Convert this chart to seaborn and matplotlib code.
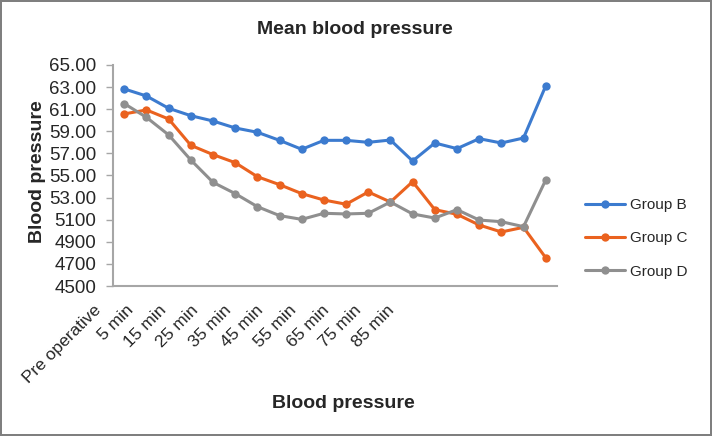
import numpy as np
import pandas as pd
import matplotlib.pyplot as plt
import seaborn as sns

# time points (every other one is labelled on the axis)
times = ["Pre operative", "0 min", "5 min", "10 min", "15 min", "20 min", "25 min",
         "30 min", "35 min", "40 min", "45 min", "50 min", "55 min", "60 min",
         "65 min", "70 min", "75 min", "80 min", "85 min", "90 min"]
shown_labels = ["Pre operative", "5 min", "15 min", "25 min", "35 min",
                "45 min", "55 min", "65 min", "75 min", "85 min"]

group_b = [62.83, 62.19, 61.08, 60.41, 59.93, 59.30, 58.91, 58.18, 57.37, 58.18,
           58.18, 58.00, 58.21, 56.31, 57.94, 57.43, 58.33, 57.94, 58.39, 63.10]
group_c = [60.57, 60.93, 60.11, 57.73, 56.89, 56.16, 54.89, 54.17, 53.36, 52.78,
           52.40, 53.51, 52.60, 54.44, 51.91, 51.49, 50.52, 49.89, 50.31, 47.56]
group_d = [61.50, 60.26, 58.67, 56.40, 54.38, 53.36, 52.18, 51.37, 51.03, 51.58,
           51.52, 51.58, 52.60, 51.52, 51.15, 51.91, 50.97, 50.82, 50.37, 54.59]

y_ticks = [45, 47, 49, 51, 53, 55, 57, 59, 61, 63, 65]
y_tick_labels = ["4500", "4700", "4900", "5100", "53.00", "55.00",
                 "57.00", "59.00", "61.00", "63.00", "65.00"]

colors = {"Group B": "#3C7BCF", "Group C": "#EA621F", "Group D": "#8F8F8F"}

df = pd.DataFrame({
    "time": times * 3,
    "bp": group_b + group_c + group_d,
    "group": ["Group B"] * 20 + ["Group C"] * 20 + ["Group D"] * 20,
})

sns.set_style("white")
plt.rcParams["font.family"] = ["Liberation Sans", "DejaVu Sans"]

fig = plt.figure(figsize=(7.12, 4.36), dpi=100, linewidth=1.5, edgecolor="#7F7F7F")
ax = fig.add_axes([0.159, 0.344, 0.623, 0.507])

sns.lineplot(data=df, x="time", y="bp", hue="group", palette=colors, marker="o",
             markersize=6, markeredgewidth=0, linewidth=2.2, sort=False, ax=ax)

ax.set_xlim(-0.5, 19.5)
ax.set_ylim(45, 65)
ax.set_yticks(y_ticks)
ax.set_yticklabels(y_tick_labels, fontsize=13.5)
ax.tick_params(axis="y", length=5, width=1, color="#A6A6A6", pad=7, left=True)

# x labels in the picture are spaced tighter than the points
ax.set_xticks([])
for k, lab in enumerate(shown_labels):
    ax.text(-1.4 + 1.468 * k, -0.075, lab, transform=ax.get_xaxis_transform(),
            rotation=45, ha="right", va="top", rotation_mode="anchor", fontsize=12.5)

for side in ["top", "right"]:
    ax.spines[side].set_visible(False)
for side in ["left", "bottom"]:
    ax.spines[side].set_color("#A6A6A6")
    ax.spines[side].set_linewidth(1.5)

ax.set_xlabel("Blood pressure", fontsize=14, fontweight="bold")
ax.xaxis.set_label_coords(0.518, -0.495)
ax.set_ylabel("Blood pressure", fontsize=14, fontweight="bold")
ax.yaxis.set_label_coords(-0.152, 0.516)

fig.text(0.499, 0.932, "Mean blood pressure", ha="center", va="center",
         fontsize=14, fontweight="bold")

handles, labels = ax.get_legend_handles_labels()
ax.legend(handles, labels, loc="upper left", bbox_to_anchor=(0.822, 0.545),
          bbox_transform=fig.transFigure, frameon=False, fontsize=11,
          handlelength=2.6, handletextpad=0.35, labelspacing=1.25,
          borderpad=0, borderaxespad=0)

fig.savefig("out.png", dpi=100)
